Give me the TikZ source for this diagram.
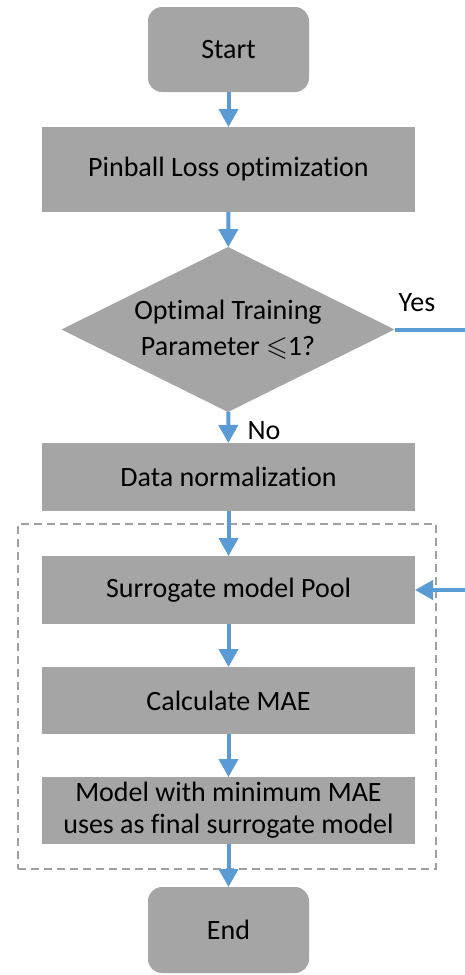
\documentclass[tikz,border=0pt]{standalone}
\usepackage{fontspec}
\setmainfont{Carlito}[Ligatures=CommonOff]
\usepackage{amssymb}
\usetikzlibrary{arrows.meta,shapes.geometric}
\definecolor{boxgray}{HTML}{A5A5A5}
\definecolor{arrowblue}{HTML}{5B9BD5}
\definecolor{dashgray}{HTML}{A0A0A0}
\begin{document}
\begin{tikzpicture}[x=1pt,y=1pt,
  every node/.style={font=\fontsize{28}{32}\selectfont, inner sep=0pt, outer sep=0pt},
  procbox/.style={fill=boxgray, draw=none, minimum width=373pt, align=center},
  termbox/.style={fill=boxgray, draw=none, rounded corners=14pt, minimum width=161pt},
  decision/.style={diamond, fill=boxgray, draw=none, minimum width=333pt, minimum height=165pt},
  groupbox/.style={draw=dashgray, line width=1.3pt, dash pattern=on 8pt off 5pt},
  conn/.style={draw=arrowblue, line width=4pt, -{Triangle[width=19pt,length=18pt]}},
  plainline/.style={draw=arrowblue, line width=4pt},
  lbl/.style={anchor=base}]
\useasboundingbox (0,0) rectangle (465,-975);
\node[groupbox, minimum width=418pt, minimum height=345pt] (grp) at (227,-696.5) {};
\node[termbox, minimum height=85pt] (start) at (228.5,-49.5) {Start};
\node[procbox, minimum height=85pt] (pinball) at (228.5,-169.5) {Pinball Loss optimization};
\node[decision] (dec) at (228,-329.5) {};
\node[align=center, font=\fontsize{28}{36}\selectfont] (dectext) at (dec.center) {Optimal Training\\Parameter $\leqslant$1?};
\node[procbox, minimum height=68pt] (data) at (228.5,-477) {Data normalization};
\node[procbox, minimum height=68pt] (sur) at (228.5,-590) {Surrogate model Pool};
\node[procbox, minimum height=67pt] (calc) at (228.5,-700.5) {Calculate MAE};
\node[procbox, minimum height=67pt] (model) at (228.5,-810.5) {Model with minimum MAE\\uses as final surrogate model};
\node[termbox, minimum height=86pt] (end) at (228.5,-930) {End};
\node[lbl] (yes) at (417,-311) {Yes};
\node[lbl] (no) at (264,-439) {No};
\coordinate (yesend) at (465,-330);
\coordinate (fbstart) at (465,-590);
\draw[conn] (start) -- (pinball);
\draw[conn] (pinball) -- (dec);
\draw[conn] (dec) -- (data);
\draw[conn] (data) -- (sur);
\draw[conn] (sur) -- (calc);
\draw[conn] (calc) -- (model);
\draw[conn] (model) -- (end);
\draw[plainline] (dec.east) -- (dec.east -| yesend);
\draw[conn] (fbstart) -- (sur.east);
\end{tikzpicture}
\end{document}
